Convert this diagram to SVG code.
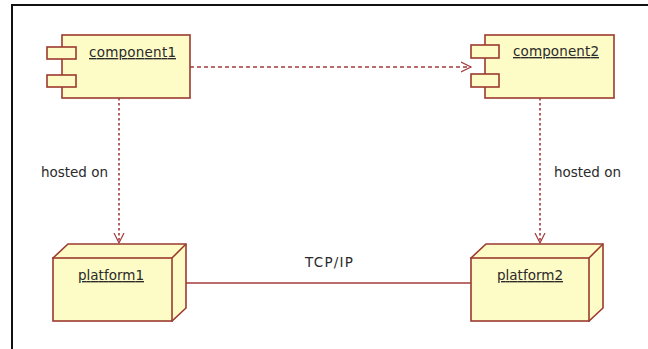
<svg xmlns="http://www.w3.org/2000/svg" width="648" height="349" viewBox="0 0 648 349">
<defs>
<marker id="open" markerWidth="12" markerHeight="12" refX="10" refY="5" orient="auto" markerUnits="userSpaceOnUse" viewBox="0 0 12 10">
<path d="M0,0 L10,5 L0,10" fill="none" stroke="#a33a3a" stroke-width="1.2"/>
</marker>
<style>
.box{fill:#fefcc6;stroke:#9b3a2f;stroke-width:1.6}
.lbl{font-family:"DejaVu Sans",sans-serif;font-size:13.5px;fill:#2a2a2a}
.name{text-decoration:underline}
.dep{fill:none;stroke:#a33a3a;stroke-width:1.3;stroke-dasharray:4 3}
.vdep{fill:none;stroke:#a33a3a;stroke-width:1.6;stroke-dasharray:2.5 2.5}
.assoc{fill:none;stroke:#a33a3a;stroke-width:1.3}
</style>
</defs>
<rect x="0" y="0" width="648" height="349" fill="#fff"/>
<rect x="12" y="5" width="700" height="400" fill="none" stroke="#111" stroke-width="2"/>

<g id="component1">
<rect class="box" x="62" y="35" width="128" height="63"/>
<rect class="box" x="47" y="47" width="29" height="12"/>
<rect class="box" x="47" y="75" width="29" height="12"/>
<text class="lbl name" x="89" y="57" textLength="87">component1</text>
</g>

<g id="component2">
<rect class="box" x="485" y="35" width="129" height="63"/>
<rect class="box" x="471" y="45" width="28" height="13"/>
<rect class="box" x="471" y="74" width="28" height="13"/>
<text class="lbl name" x="513" y="56" textLength="86">component2</text>
</g>

<g id="platform1">
<path class="box" d="M53,258 L68,244 L186,244 L186,308 L172,321 Z"/>
<path class="box" d="M172,258 L186,244"/>
<rect class="box" x="53" y="258" width="119" height="63"/>
<text class="lbl name" x="78" y="280" textLength="66">platform1</text>
</g>

<g id="platform2">
<path class="box" d="M471,258 L486,244 L603,244 L603,308 L589,321 Z"/>
<path class="box" d="M589,258 L603,244"/>
<rect class="box" x="471" y="258" width="118" height="63"/>
<text class="lbl name" x="497" y="280" textLength="66">platform2</text>
</g>

<g id="connectors">
<line class="dep" x1="190" y1="67" x2="471" y2="67" marker-end="url(#open)"/>
<line class="vdep" x1="119" y1="98" x2="119" y2="243" marker-end="url(#open)"/>
<line class="vdep" x1="540" y1="98" x2="540" y2="243" marker-end="url(#open)"/>
<line class="assoc" x1="186" y1="283" x2="471" y2="283"/>
<text class="lbl" x="41" y="177" textLength="67">hosted on</text>
<text class="lbl" x="554" y="177" textLength="67">hosted on</text>
<text class="lbl" x="305" y="267" textLength="48">TCP/IP</text>
</g>
</svg>
